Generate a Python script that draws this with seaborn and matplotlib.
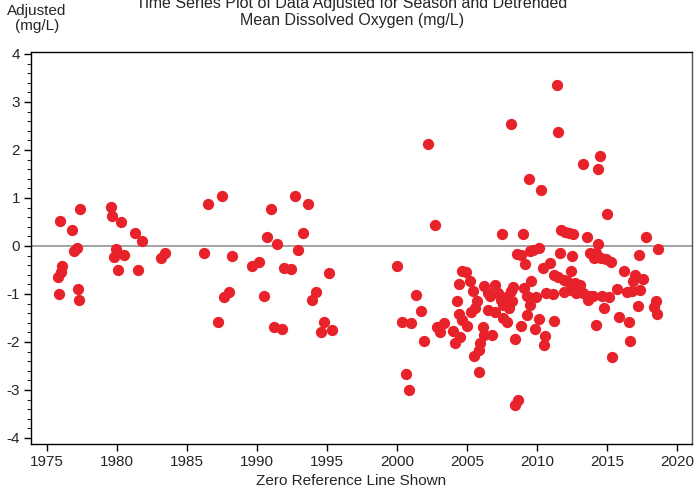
import matplotlib
matplotlib.use("Agg")
import matplotlib.pyplot as plt
import seaborn as sns
import pandas as pd
from matplotlib.ticker import MultipleLocator

# values
years_early = [1975.93, 1976.76, 1977.36, 1977.12, 1976.93, 1976.09, 1975.98, 1975.76, 1975.88, 1977.19,
               1977.26, 1979.59, 1979.66, 1980.26, 1979.93, 1979.79, 1980.50, 1980.09, 1981.26, 1981.79,
               1981.48, 1983.45, 1983.16, 1986.21, 1986.50, 1987.48, 1988.21, 1987.98, 1987.66, 1987.24,
               1989.64, 1990.16, 1991.00, 1990.71, 1991.45, 1990.50, 1991.24, 1991.76, 1992.71, 1993.62,
               1993.29, 1992.95, 1991.95, 1992.41, 1995.12, 1994.21, 1993.91, 1994.79, 1994.57, 1995.38]
values_early = [0.53, 0.33, 0.76, -0.04, -0.10, -0.41, -0.54, -0.64, -1.01, -0.90,
                -1.13, 0.81, 0.63, 0.49, -0.07, -0.23, -0.19, -0.51, 0.28, 0.11,
                -0.51, -0.15, -0.26, -0.15, 0.87, 1.04, -0.21, -0.95, -1.07, -1.58,
                -0.42, -0.33, 0.76, 0.18, 0.04, -1.04, -1.68, -1.74, 1.04, 0.88,
                0.26, -0.08, -0.46, -0.49, -0.56, -0.95, -1.13, -1.59, -1.79, -1.76]

years_late = [2000.02, 2001.36, 2001.69, 2000.34, 2001.02, 2001.95, 2000.62, 2000.86, 2002.19, 2002.69,
              2002.84, 2003.07, 2003.38, 2004.02, 2004.14, 2004.26, 2004.41, 2004.41, 2004.50, 2004.61,
              2004.66, 2004.91, 2005.02, 2005.18, 2005.29, 2005.45, 2005.52, 2005.57, 2005.69, 2005.84,
              2005.86, 2005.93, 2006.16, 2006.21, 2006.24, 2006.50, 2006.50, 2006.62, 2006.79, 2006.98,
              2006.98, 2007.21, 2007.41, 2007.50, 2007.57, 2007.57, 2007.88, 2007.93, 2007.98, 2008.12,
              2008.14, 2008.21, 2008.29, 2008.41, 2008.45, 2008.59, 2008.62, 2008.84, 2008.88, 2009.02,
              2009.07, 2009.16, 2009.31, 2009.31, 2009.43, 2009.48, 2009.50, 2009.55, 2009.59, 2009.74,
              2009.84, 2009.95, 2010.12, 2010.16, 2010.31, 2010.43, 2010.50, 2010.59, 2010.66, 2010.93,
              2011.12, 2011.19, 2011.24, 2011.43, 2011.48, 2011.48, 2011.66, 2011.69, 2011.91, 2011.95,
              2012.00, 2012.14, 2012.31, 2012.43, 2012.43, 2012.48, 2012.59, 2012.71, 2012.79, 2013.09,
              2013.26, 2013.31, 2013.57, 2013.66, 2013.74, 2013.81, 2013.98, 2014.09, 2014.21, 2014.21,
              2014.34, 2014.38, 2014.52, 2014.57, 2014.62, 2014.81, 2014.93, 2014.98, 2015.16, 2015.29,
              2015.34, 2015.73, 2015.88, 2016.21, 2016.45, 2016.54, 2016.64, 2016.82, 2016.88, 2016.98,
              2017.21, 2017.31, 2017.38, 2017.55, 2017.81, 2018.36, 2018.48, 2018.55, 2018.64]
values_late = [-0.42, -1.02, -1.36, -1.58, -1.60, -1.98, -2.67, -3.01, 2.13, 0.44,
               -1.69, -1.80, -1.60, -1.78, -2.02, -1.15, -0.79, -1.42, -1.90, -1.54,
               -0.53, -0.54, -1.67, -0.72, -1.38, -0.93, -2.29, -1.29, -1.14, -2.63,
               -2.16, -2.02, -1.69, -0.84, -1.85, -0.98, -1.33, -1.05, -1.85, -0.81,
               -1.38, -0.98, -1.12, 0.25, -1.22, -1.50, -1.58, -1.05, -1.29, -0.94,
               2.54, -1.14, -0.86, -1.93, -3.31, -0.17, -3.21, -0.18, -1.67, 0.24,
               -0.88, -0.38, -1.05, -1.44, 1.39, -1.24, -0.11, -1.08, -0.74, -0.08,
               -1.72, -1.07, -1.53, -0.04, 1.16, -0.46, -2.07, -1.88, -0.98, -0.35,
               -1.01, -1.57, -0.60, 3.35, 2.38, -0.65, -0.15, 0.33, -0.70, -0.96,
               0.29, -0.74, 0.26, -0.53, -0.91, -0.20, 0.25, -0.77, -0.98, -0.81,
               -0.98, 1.71, 0.19, -1.12, -1.05, -0.15, -1.04, -0.25, -0.15, -1.64,
               0.04, 1.60, 1.88, -0.25, -1.04, -1.29, -0.28, 0.66, -1.07, -0.33,
               -2.31, -0.89, -1.47, -0.53, -0.96, -1.59, -1.97, -0.93, -0.74, -0.61,
               -1.25, -0.18, -0.92, -0.68, 0.19, -1.28, -1.14, -1.42, -0.06]

x_ticks = [1975, 1980, 1985, 1990, 1995, 2000, 2005, 2010, 2015, 2020]
y_ticks = [-4, -3, -2, -1, 0, 1, 2, 3, 4]

df = pd.DataFrame({
    'year': years_early + years_late,
    'adjusted': values_early + values_late,
})

sns.set_style('ticks')
plt.rcParams['font.family'] = ['Liberation Sans', 'DejaVu Sans']
plt.rcParams['axes.unicode_minus'] = False

fig = plt.figure(figsize=(6.94, 4.93), dpi=100)
ax = fig.add_axes([31 / 694, 1 - 444 / 493, 661 / 694, 392 / 493])

ax.axhline(0, color='#8a8a8a', linewidth=1.1, zorder=1)
sns.scatterplot(data=df, x='year', y='adjusted', ax=ax, color='#e8222a',
                s=66, linewidth=0, alpha=1, zorder=3, legend=False)

ax.set_xlim(1973.86, 2021.07)
ax.set_ylim(-4.125, 4.04)
ax.set_xticks(x_ticks)
ax.set_yticks(y_ticks)
ax.yaxis.set_minor_locator(MultipleLocator(0.2))
ax.tick_params(axis='both', which='major', labelsize=11, length=5, width=1, color='black', pad=3)
ax.tick_params(axis='y', which='minor', length=3, width=0.8)
ax.set_xlabel('')
ax.set_ylabel('')
for side in ['left', 'right', 'top', 'bottom']:
    ax.spines[side].set_visible(True)
    ax.spines[side].set_color('black')
    ax.spines[side].set_linewidth(1)
ax.spines['right'].set_color('#555555')

# title sits partly above the top edge, as in the reference
fig.text(352 / 694, 1 - 28 / 493,
         'Time Series Plot of Data Adjusted for Season and Detrended\nMean Dissolved Oxygen (mg/L)',
         ha='center', va='bottom', fontsize=11.5, linespacing=1.15)
fig.text(37 / 694, 1 - 18.5 / 493, 'Adjusted\n(mg/L)', ha='center', va='center',
         fontsize=11, linespacing=1.15)
fig.text(351 / 694, 1 - 481 / 493, 'Zero Reference Line Shown', ha='center', va='center',
         fontsize=11)

fig.savefig('out.png', dpi=100)
